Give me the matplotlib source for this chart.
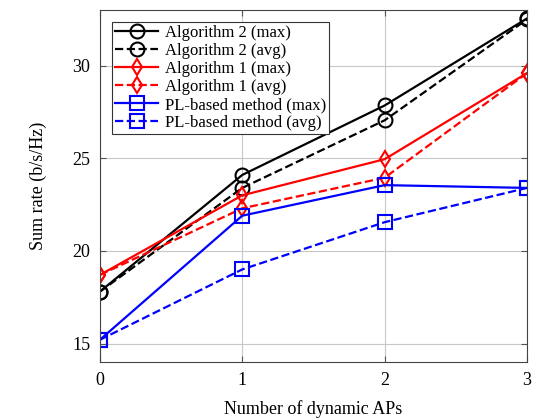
import numpy as np
import matplotlib.pyplot as plt

plt.rcParams['font.family'] = ['Liberation Serif', 'DejaVu Serif']

x = [0, 1, 2, 3]
alg2_max = [17.8, 24.1, 27.85, 32.55]
alg2_avg = [17.8, 23.4, 27.05, 32.5]
alg1_max = [18.7, 23.0, 24.95, 29.6]
alg1_avg = [18.7, 22.3, 23.95, 29.6]
pl_max = [15.2, 21.9, 23.55, 23.4]
pl_avg = [15.2, 19.0, 21.55, 23.4]

fig = plt.figure(figsize=(5.34, 4.2), dpi=100)
ax = fig.add_axes([0.187, 0.138, 0.8, 0.838])

ax.plot(x, alg2_max, 'k-', marker='o', ms=10, mfc='none', mew=1.5, lw=1.6, label='Algorithm 2 (max)')
ax.plot(x, alg2_avg, 'k--', marker='o', ms=10, mfc='none', mew=1.5, lw=1.6, label='Algorithm 2 (avg)')
ax.plot(x, alg1_max, '-', color='red', marker='d', ms=8, mfc='none', mew=1.5, lw=1.6, label='Algorithm 1 (max)')
ax.plot(x, alg1_avg, '--', color='red', marker='d', ms=8, mfc='none', mew=1.5, lw=1.6, label='Algorithm 1 (avg)')
ax.plot(x, pl_max, '-', color='blue', marker='s', ms=10, mfc='none', mew=1.5, lw=1.6, label='PL-based method (max)')
ax.plot(x, pl_avg, '--', color='blue', marker='s', ms=10, mfc='none', mew=1.5, lw=1.6, label='PL-based method (avg)')

ax.set_xlim(0, 3)
ax.set_ylim(14, 33)
ax.set_xticks([0, 1, 2, 3])
ax.set_yticks([15, 20, 25, 30])
ax.grid(True, color='#c8c8c8', lw=0.8)
ax.tick_params(direction='in', top=True, right=True, labelsize=13, color='#555555', length=4, pad=7)
for s in ax.spines.values():
    s.set_color('#444444')
ax.set_xlabel('Number of dynamic APs', fontsize=13, labelpad=8)
ax.set_ylabel('Sum rate (b/s/Hz)', fontsize=13, labelpad=18)

leg = ax.legend(loc='upper left', fontsize=12, frameon=True, fancybox=False, edgecolor='#333333',
                framealpha=1, borderpad=0.2, labelspacing=0.12, handlelength=2.6, handletextpad=0.4,
                borderaxespad=0.7)
leg.get_frame().set_linewidth(0.8)

fig.savefig('out.png', dpi=100)
